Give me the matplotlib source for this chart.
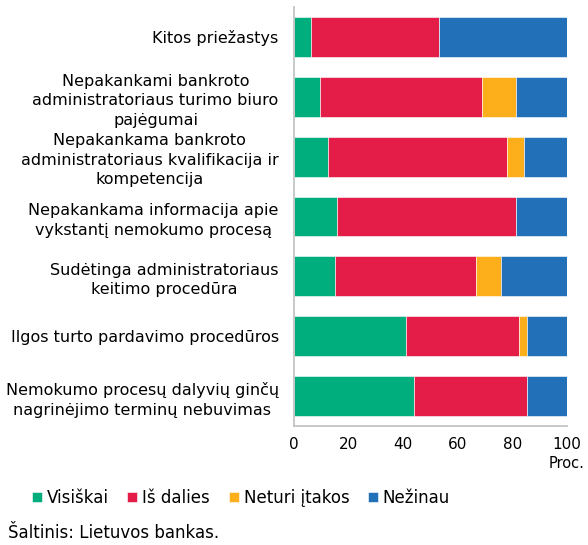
import matplotlib
matplotlib.use("Agg")
import matplotlib.pyplot as plt
import numpy as np

categories = [
    "Kitos priežastys",
    "Nepakankami bankroto\nadministratoriaus turimo biuro\npajėgumai",
    "Nepakankama bankroto\nadministratoriaus kvalifikacija ir\nkompetencija",
    "Nepakankama informacija apie\nvykstantį nemokumo procesą",
    "Sudėtinga administratoriaus\nkeitimo procedūra",
    "Ilgos turto pardavimo procedūros",
    "Nemokumo procesų dalyvių ginčų\nnagrinėjimo terminų nebuvimas",
]
series_names = ["Visiškai", "Iš dalies", "Neturi įtakos", "Nežinau"]
visiskai = [6.3, 9.4, 12.5, 15.6, 15.2, 41.2, 44.1]
is_dalies = [46.8, 59.4, 65.6, 65.6, 51.5, 41.2, 41.2]
neturi = [0.0, 12.5, 6.2, 0.0, 9.1, 2.9, 0.0]
nezinau = [46.9, 18.7, 15.7, 18.8, 24.2, 14.7, 14.7]
xticks = [0, 20, 40, 60, 80, 100]
colors = ["#00ad7c", "#e31d48", "#fcaf1b", "#2270b7"]

fig = plt.figure(figsize=(5.88, 5.45), dpi=100)
ax = fig.add_axes([294/588, 1 - 426/545, 273/588, 419/545])

y = np.arange(len(categories))
left = np.zeros(len(categories))
for vals, name, c in zip([visiskai, is_dalies, neturi, nezinau], series_names, colors):
    ax.barh(y, vals, left=left, height=0.667, color=c, label=name,
            edgecolor="white", linewidth=0.4)
    left += np.array(vals)

ax.set_ylim(len(categories) - 0.5, -0.5)
ax.set_xlim(0, 100)
ax.set_yticks(y)
ax.set_yticklabels(categories, fontsize=11.5, multialignment="center", linespacing=1.38)
ax.set_xticks(xticks)
ax.set_xticklabels([str(t) for t in xticks], fontsize=11)
ax.tick_params(axis="y", length=0, pad=11)
ax.tick_params(axis="x", length=0, pad=8)
for s in ["top", "right"]:
    ax.spines[s].set_visible(False)
for s in ["left", "bottom"]:
    ax.spines[s].set_color("#c4c4c4")
    ax.spines[s].set_linewidth(1.3)

fig.text(567/588, 1 - 463/545, "Proc.", ha="center", va="center", fontsize=10.5)

leg = fig.legend(loc="center", bbox_to_anchor=(241/588, 1 - 498/545), ncol=4,
                 frameon=False, fontsize=12, handlelength=0.6, handleheight=0.6,
                 handletextpad=0.3, columnspacing=1.1)
fig.text(8/588, 1 - 533/545, "Šaltinis: Lietuvos bankas.", ha="left", va="center", fontsize=12)

fig.savefig("out.png", dpi=100)
